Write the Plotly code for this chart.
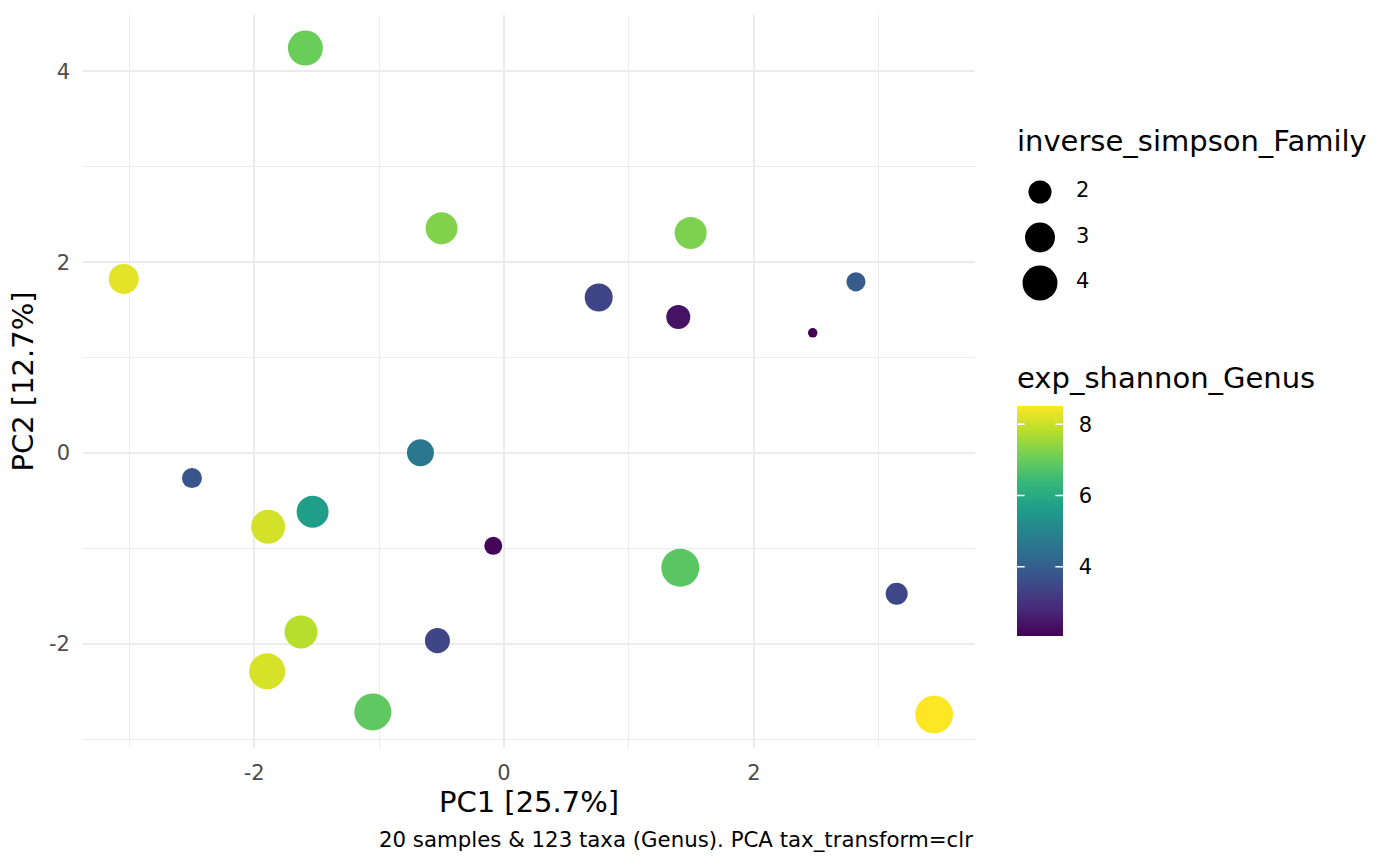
import numpy as np
import plotly.graph_objects as go

W, H = 1400, 866

# sample scores on the first two principal components
pc1 = [-1.590, -0.500, 1.494, -3.044, 0.758, 1.395, 2.817, 2.471, -0.669, -2.498,
       -1.888, -1.532, -0.086, 1.411, 3.143, -1.625, -0.533, -1.896, -1.050, 3.443]
pc2 = [4.244, 2.356, 2.307, 1.825, 1.630, 1.427, 1.794, 1.260, 0.003, -0.262,
       -0.772, -0.615, -0.971, -1.201, -1.473, -1.874, -1.965, -2.286, -2.712, -2.740]
exp_shannon_genus = [7.03, 7.28, 7.22, 8.25, 3.41, 2.38, 3.93, 2.06, 4.64, 3.80,
                     8.09, 5.67, 2.12, 6.83, 3.48, 7.80, 3.41, 8.12, 6.90, 8.51]
inverse_simpson_family = [4.00, 3.38, 3.38, 3.02, 2.68, 2.12, 1.61, 1.22, 2.53, 1.69,
                          3.78, 3.38, 1.53, 4.69, 1.89, 3.58, 2.25, 4.22, 4.45, 4.65]
size_breaks = [2, 3, 4]
color_breaks = [4, 6, 8]
x_ticks = [-2, 0, 2]
y_ticks = [-2, 0, 2, 4]

x_title = 'PC1 [25.7%]'
y_title = 'PC2 [12.7%]'
caption = '20 samples & 123 taxa (Genus). PCA tax_transform=clr'

# ggplot-like area scale: diameter grows with sqrt of the rescaled value
s_min, s_max = min(inverse_simpson_family), max(inverse_simpson_family)
d_min, d_max = 9.5, 28.5 + 9.5


def size_px(v):
    t = (np.asarray(v, dtype=float) - s_min) / (s_max - s_min)
    return d_min + (d_max - d_min) * np.sqrt(np.clip(t, 0, None))


font = 'DejaVu Sans'
grid = '#ebebeb'
title_size, text_size = 29, 21

# plot panel in pixels
px_l, px_r, px_t, px_b = 83, 975, 15, 748
# colourbar box in pixels
cb_l, cb_w, cb_b, cb_len = 1017, 46, 636, 230
c_min, c_max = min(exp_shannon_genus), max(exp_shannon_genus)

fig = go.Figure()
fig.add_trace(go.Scatter(
    x=pc1, y=pc2, mode='markers', showlegend=False, hoverinfo='skip',
    marker=dict(size=size_px(inverse_simpson_family), sizemode='diameter',
                color=exp_shannon_genus, colorscale='Viridis',
                cmin=c_min, cmax=c_max,
                opacity=1, line=dict(width=0),
                colorbar=dict(thickness=cb_w, len=cb_len, lenmode='pixels',
                              xref='container', yref='container',
                              x=cb_l / W, xanchor='left',
                              y=(H - cb_b) / H, yanchor='bottom',
                              xpad=0, ypad=0, outlinewidth=0,
                              ticks='outside', ticklen=12, tickcolor='rgba(0,0,0,0)',
                              tickvals=color_breaks, ticktext=[str(v) for v in color_breaks],
                              tickfont=dict(size=text_size, color='black'))),
))

# size legend drawn on a hidden pixel-space axis
leg_y = [192 + 45.5 * i for i in range(len(size_breaks))]
fig.add_trace(go.Scatter(
    x=[1040] * len(size_breaks), y=leg_y, xaxis='x2', yaxis='y2', mode='markers',
    showlegend=False, hoverinfo='skip',
    marker=dict(size=size_px(size_breaks), sizemode='diameter', color='black',
                opacity=1, line=dict(width=0)),
))
fig.add_trace(go.Scatter(
    x=[1076] * len(size_breaks), y=leg_y, xaxis='x2', yaxis='y2', mode='text',
    text=[str(b) for b in size_breaks], textposition='middle right',
    textfont=dict(size=text_size, color='black'), showlegend=False, hoverinfo='skip',
))

# white tick marks on both edges of the colourbar (annotations sit above it)
for v in color_breaks:
    yy = cb_b - (v - c_min) / (c_max - c_min) * cb_len
    for edge, dx in ((cb_l, cb_w / 5), (cb_l + cb_w, -cb_w / 5)):
        fig.add_annotation(text='', xref='paper', yref='paper', x=edge / W, y=(H - yy) / H,
                           showarrow=True, arrowhead=0, arrowcolor='white', arrowwidth=1.5,
                           ax=dx, ay=0, standoff=0, startstandoff=0)

fig.add_annotation(text='inverse_simpson_Family', xref='paper', yref='paper',
                   x=1015 / W, y=(H - 141) / H, xanchor='left', yanchor='middle',
                   showarrow=False, font=dict(size=title_size, color='black'))
fig.add_annotation(text='exp_shannon_Genus', xref='paper', yref='paper',
                   x=1015 / W, y=(H - 378) / H, xanchor='left', yanchor='middle',
                   showarrow=False, font=dict(size=title_size, color='black'))
fig.add_annotation(text=caption, xref='paper', yref='paper',
                   x=px_r / W, y=(H - 839) / H, xanchor='right', yanchor='middle',
                   showarrow=False, font=dict(size=21.3, color='black'))

axis_common = dict(showline=False, zeroline=False, ticks='', gridcolor=grid, gridwidth=2,
                   tickfont=dict(size=text_size, color='#4d4d4d'),
                   minor=dict(dtick=1, showgrid=True, gridcolor=grid, gridwidth=1))

fig.update_layout(
    width=W, height=H, margin=dict(l=0, r=0, t=0, b=0, autoexpand=False),
    paper_bgcolor='white', plot_bgcolor='white',
    font=dict(family=font, color='black'),
    xaxis=dict(domain=[px_l / W, px_r / W], range=[-3.37, 3.77],
               tickvals=x_ticks, ticktext=[str(v) for v in x_ticks],
               ticklabelstandoff=10,
               title=dict(text=x_title, font=dict(size=title_size, color='black'), standoff=6),
               **axis_common),
    yaxis=dict(domain=[(H - px_b) / H, (H - px_t) / H], range=[-3.09, 4.59],
               tickvals=y_ticks, ticktext=[str(v) for v in y_ticks],
               ticklabelstandoff=12,
               title=dict(text=y_title, font=dict(size=title_size, color='black'), standoff=6),
               **axis_common),
    xaxis2=dict(domain=[1000 / W, 1.0], range=[1000, W], visible=False, fixedrange=True),
    yaxis2=dict(domain=[0, 1], range=[H, 0], visible=False, fixedrange=True, anchor='x2'),
)

fig.write_html('out.html', config={'displayModeBar': False},
               post_script="document.body.style.margin='0';")
